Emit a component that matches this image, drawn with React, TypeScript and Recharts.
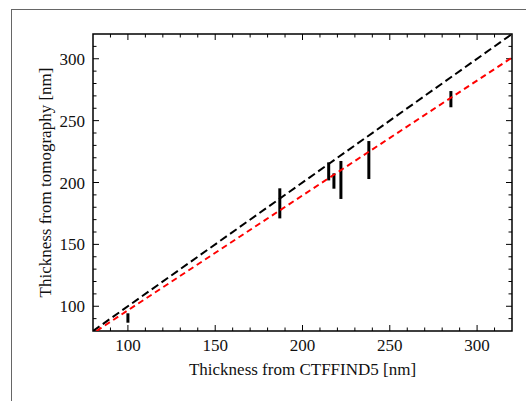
import React from 'react';
import { ComposedChart, Scatter, XAxis, YAxis, ErrorBar, ReferenceLine, ReferenceArea } from 'recharts';

// tick positions (both axes share the same range)
const majorTicks = [100, 150, 200, 250, 300];
const minorTicks = [90, 110, 120, 130, 140, 160, 170, 180, 190, 210, 220, 230, 240, 260, 270, 280, 290, 310];

// measurements: CTFFIND5 thickness vs tomography range
const ctffindNm = [100, 187, 215, 218, 222, 238, 285];
const tomoLowNm = [86.7, 171, 201.7, 195, 186.7, 202.8, 260.8];
const tomoHighNm = [94.3, 195.3, 216.3, 207.4, 217.4, 233.5, 273.9];

// y = x reference and fitted line
const identityX = [80, 320];
const identityY = [80, 320];
const fitX = [82, 320];
const fitY = [80, 301];

const points = ctffindNm.map((x, i) => ({
  x,
  y: (tomoLowNm[i] + tomoHighNm[i]) / 2,
  err: (tomoHighNm[i] - tomoLowNm[i]) / 2,
}));
const identityLine = identityX.map((x, i) => ({ x, y: identityY[i] }));
const fitLine = fitX.map((x, i) => ({ x, y: fitY[i] }));

const FONT = "'Liberation Serif', 'Times New Roman', serif";
const TEXT = '#111';
const MAJOR_LEN = 6;
const MINOR_LEN = 3.5;
const DOMAIN: [number, number] = [80, 320];
const noShape = () => <g />;

// inward ticks on both ends of a reference line (bottom+top or left+right)
const tickMarks = (len: number, vertical: boolean) => (p: any) => {
  if (vertical) {
    const top = Math.min(p.y1, p.y2);
    const bottom = Math.max(p.y1, p.y2);
    return (
      <g>
        <line x1={p.x1} x2={p.x1} y1={bottom} y2={bottom - len} stroke="#000" strokeWidth={1} />
        <line x1={p.x1} x2={p.x1} y1={top} y2={top + len} stroke="#000" strokeWidth={1} />
      </g>
    );
  }
  const left = Math.min(p.x1, p.x2);
  const right = Math.max(p.x1, p.x2);
  return (
    <g>
      <line x1={left} x2={left + len} y1={p.y1} y2={p.y1} stroke="#000" strokeWidth={1} />
      <line x1={right} x2={right - len} y1={p.y1} y2={p.y1} stroke="#000" strokeWidth={1} />
    </g>
  );
};

const BottomLabel = ({ x, y, payload }: any) => (
  <text x={x} y={y + 20} textAnchor="middle" style={{ fontFamily: FONT, fontSize: 17 }} fill={TEXT}>
    {payload.value}
  </text>
);

const LeftLabel = ({ x, y, payload }: any) => (
  <text x={x - 8} y={y + 6} textAnchor="end" style={{ fontFamily: FONT, fontSize: 17 }} fill={TEXT}>
    {payload.value}
  </text>
);

export default function App() {
  return (
    <div style={{ position: 'absolute', left: 0, top: 0, width: 526, height: 401, background: '#fff' }}>
      <div
        style={{
          position: 'absolute',
          left: 11,
          top: 9,
          width: 515,
          height: 392,
          borderLeft: '1px solid #666',
          borderTop: '1px solid #666',
        }}
      />
      <div style={{ position: 'absolute', left: 0, top: 0 }}>
        <ComposedChart width={526} height={401} margin={{ top: 34, right: 14, bottom: 20, left: 33 }}>
          <XAxis
            dataKey="x"
            type="number"
            domain={DOMAIN}
            allowDataOverflow
            ticks={majorTicks}
            interval={0}
            height={50}
            tickSize={0}
            tickMargin={0}
            tickLine={false}
            axisLine={false}
            tick={<BottomLabel />}
            label={{
              content: ({ viewBox }: any) => (
                <text
                  x={viewBox.x + viewBox.width / 2}
                  y={viewBox.y + 44}
                  textAnchor="middle"
                  style={{ fontFamily: FONT, fontSize: 17 }}
                  fill={TEXT}
                >
                  Thickness from CTFFIND5 [nm]
                </text>
              ),
            }}
          />
          <YAxis
            type="number"
            domain={DOMAIN}
            allowDataOverflow
            ticks={majorTicks}
            interval={0}
            width={60}
            tickSize={0}
            tickMargin={0}
            tickLine={false}
            axisLine={false}
            tick={<LeftLabel />}
            label={{
              content: ({ viewBox }: any) => {
                const cx = viewBox.x + 12;
                const cy = viewBox.y + viewBox.height / 2;
                return (
                  <text
                    x={cx}
                    y={cy}
                    transform={`rotate(-90 ${cx} ${cy})`}
                    textAnchor="middle"
                    dominantBaseline="central"
                    style={{ fontFamily: FONT, fontSize: 17 }}
                    fill={TEXT}
                  >
                    Thickness from tomography [nm]
                  </text>
                );
              },
            }}
          />
          {majorTicks.map((v) => (
            <ReferenceLine key={`xM${v}`} x={v} shape={tickMarks(MAJOR_LEN, true)} />
          ))}
          {minorTicks.map((v) => (
            <ReferenceLine key={`xm${v}`} x={v} shape={tickMarks(MINOR_LEN, true)} />
          ))}
          {majorTicks.map((v) => (
            <ReferenceLine key={`yM${v}`} y={v} shape={tickMarks(MAJOR_LEN, false)} />
          ))}
          {minorTicks.map((v) => (
            <ReferenceLine key={`ym${v}`} y={v} shape={tickMarks(MINOR_LEN, false)} />
          ))}
          <Scatter data={points} dataKey="y" shape={noShape} isAnimationActive={false}>
            <ErrorBar dataKey="err" direction="y" width={0} stroke="#000" strokeWidth={3} />
          </Scatter>
          <Scatter
            data={identityLine}
            dataKey="y"
            shape={noShape}
            line={{ stroke: '#000', strokeWidth: 2, strokeDasharray: '8 4' }}
            isAnimationActive={false}
          />
          <Scatter
            data={fitLine}
            dataKey="y"
            shape={noShape}
            line={{ stroke: '#ff0000', strokeWidth: 2, strokeDasharray: '6 4' }}
            isAnimationActive={false}
          />
          <ReferenceArea
            x1={DOMAIN[0]}
            x2={DOMAIN[1]}
            y1={DOMAIN[0]}
            y2={DOMAIN[1]}
            fill="none"
            fillOpacity={0}
            stroke="#000"
            strokeWidth={1.5}
          />
        </ComposedChart>
      </div>
    </div>
  );
}
